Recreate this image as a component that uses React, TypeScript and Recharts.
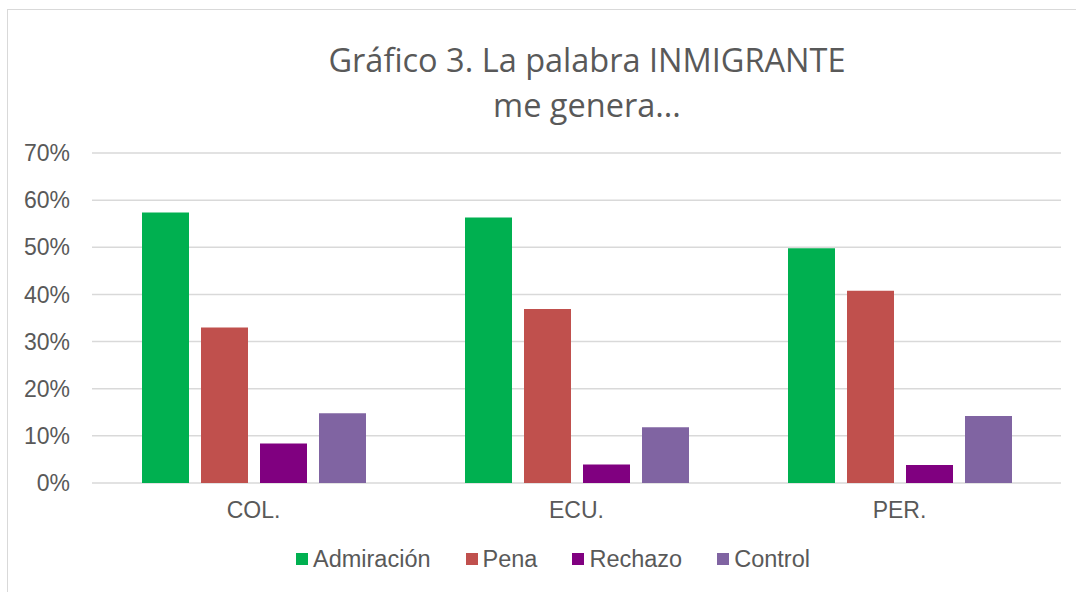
import React from 'react';
import { BarChart, Bar, XAxis, YAxis, CartesianGrid, Legend } from 'recharts';

const countries = ['COL.', 'ECU.', 'PER.'];
const admiracion = [57.4, 56.3, 49.8];
const pena = [33.0, 36.9, 40.8];
const rechazo = [8.4, 3.9, 3.8];
const control = [14.8, 11.8, 14.2];
const yTicks = [0, 10, 20, 30, 40, 50, 60, 70];

const series = [
  { key: 'Admiración', values: admiracion, color: '#00b050' },
  { key: 'Pena', values: pena, color: '#c0504d' },
  { key: 'Rechazo', values: rechazo, color: '#800080' },
  { key: 'Control', values: control, color: '#8064a2' },
];

const data = countries.map((c, i) => {
  const row: any = { name: c };
  series.forEach((s) => (row[s.key] = s.values[i]));
  return row;
});

const textColor = '#595959';
const axisFont = '"Liberation Sans", Arial, sans-serif';

// legend keeps the series order (recharts sorts payload by name otherwise)
function LegendContent() {
  return (
    <div style={{ display: 'flex', alignItems: 'center', paddingLeft: 296 }}>
      {series.map((s, i) => (
        <div key={s.key} style={{ display: 'flex', alignItems: 'center', marginRight: i < series.length - 1 ? 35 : 0 }}>
          <span style={{ width: 12, height: 12, background: s.color, display: 'inline-block', marginRight: 5 }} />
          <span style={{ fontFamily: axisFont, fontSize: 23.5, color: textColor, lineHeight: '26px' }}>{s.key}</span>
        </div>
      ))}
    </div>
  );
}

export default function App() {
  return (
    <div style={{ position: 'fixed', left: 0, top: 0, width: 1076, height: 592, overflow: 'hidden', background: '#fff' }}>
      <div style={{ position: 'absolute', left: 7, top: 9, width: 1100, height: 620, border: '1.5px solid #d9d9d9', boxSizing: 'border-box' }} />
      <div
        style={{
          position: 'absolute',
          left: 0,
          top: 37,
          width: 1174,
          textAlign: 'center',
          fontFamily: '"Open Sans", sans-serif',
          fontSize: 32.5,
          lineHeight: '45px',
          color: textColor,
        }}
      >
        Gráfico 3. La palabra INMIGRANTE
        <br />
        me genera...
      </div>
      <div style={{ position: 'absolute', left: 0, top: 0 }}>
        <BarChart
          width={1076}
          height={592}
          data={data}
          margin={{ top: 153, right: 15, bottom: 69, left: 0 }}
          barSize={47}
          barGap={12}
        >
          <CartesianGrid vertical={false} stroke="#d9d9d9" strokeWidth={1.5} />
          <XAxis
            dataKey="name"
            axisLine={false}
            tickLine={false}
            tickSize={0}
            tickMargin={19}
            height={40}
            tick={{ fill: textColor, fontSize: 23, fontFamily: axisFont }}
          />
          <YAxis
            domain={[0, 70]}
            ticks={yTicks}
            interval={0}
            width={92}
            axisLine={false}
            tickLine={false}
            tickSize={0}
            tickMargin={22}
            tickFormatter={(v: number) => `${v}%`}
            tick={{ fill: textColor, fontSize: 23, fontFamily: axisFont }}
          />
          <Legend
            layout="horizontal"
            verticalAlign="middle"
            align="center"
            wrapperStyle={{ top: 546, left: 0, width: 1076 }}
            content={<LegendContent />}
          />
          {series.map((s) => (
            <Bar key={s.key} dataKey={s.key} fill={s.color} isAnimationActive={false} />
          ))}
        </BarChart>
      </div>
    </div>
  );
}
